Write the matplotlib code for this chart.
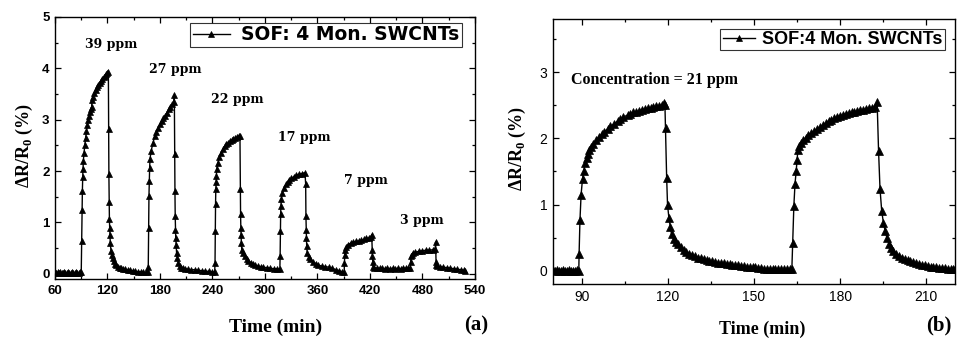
import numpy as np
import matplotlib
matplotlib.use("Agg")
import matplotlib.pyplot as plt
from matplotlib.ticker import MultipleLocator

plt.rcParams["mathtext.fontset"] = "custom"
plt.rcParams["mathtext.bf"] = "Liberation Serif:bold"
plt.rcParams["mathtext.rm"] = "Liberation Serif:bold"

# (a) response to successive concentrations
time_a = [
    60, 61.5, 63, 64.5, 66, 67.5, 69, 70.5, 72, 73.5, 75, 76.5, 78, 79.5, 81, 82.5, 84, 85.5, 87, 88.5, 90,
    90.5, 90.9, 91.3, 91.7, 92.1, 92.4, 93.2, 94, 95, 96, 97, 98, 99, 100, 101, 101.9, 102.3, 103.5, 105,
    106.5, 108, 109.5, 111, 112.5, 114, 115.5, 117, 118.5, 120, 121,
    121.3, 121.6, 121.9, 122.2, 122.5, 122.8, 123.2, 124, 125, 126, 127, 128.5, 130, 132, 134, 136, 138,
    140, 143, 146, 149, 152, 155, 158, 161, 164, 166,
    166.6, 167, 167.4, 167.8, 168.2, 168.6, 170, 172, 174, 176, 178, 180, 182, 184, 186, 188, 190, 192,
    194, 196, 196.4,
    196.8, 197.1, 197.4, 197.7, 198, 198.4, 199, 200, 201, 202.5, 204, 206, 209, 212, 216, 220, 224, 228,
    232, 236, 240, 242.5,
    242.9, 243.2, 243.5, 243.8, 244.1, 244.4, 244.8, 246, 248, 250, 252, 254, 256, 258, 260, 262, 264,
    266, 268, 270, 271.4,
    271.8, 272.1, 272.4, 272.7, 273, 273.5, 275, 277, 279, 281, 283.5, 286, 289, 292, 295, 298, 302, 306,
    310, 314, 317,
    317.3, 317.6, 317.9, 318.2, 318.6, 320, 322, 324, 326, 328, 330, 333, 336, 339, 342, 345.7,
    346.5, 346.8, 347.1, 347.4, 347.7, 348.2, 350, 352, 355, 358, 361, 365, 369, 373, 377, 381, 385, 388,
    390.5,
    390.8, 391.2, 391.6, 393, 395, 398, 401, 404, 407, 410, 413, 416, 419, 421.5, 422,
    422.5, 422.8, 423.2, 423.6, 425, 428, 431, 434, 437, 440, 443, 446, 449, 452, 455, 458, 461, 464, 466,
    466.5, 467, 467.5, 469, 472, 476, 480, 484, 488, 492, 494.5, 495,
    495.5, 496, 497, 500, 504, 508, 512, 516, 520, 524, 527, 529,
]
resp_a = [
    0.03, 0.02, 0.03, 0.02, 0.03, 0.02, 0.02, 0.03, 0.02, 0.02, 0.03, 0.02, 0.02, 0.03, 0.02, 0.02, 0.03, 0.02, 0.02, 0.03, 0.03,
    0.63, 1.25, 1.61, 1.89, 2.05, 2.2, 2.35, 2.5, 2.65, 2.78, 2.9, 3.0, 3.08, 3.15, 3.2, 3.25, 3.38, 3.45, 3.52,
    3.58, 3.63, 3.68, 3.72, 3.76, 3.8, 3.83, 3.86, 3.89, 3.91, 3.93,
    2.82, 1.94, 1.39, 1.06, 0.9, 0.76, 0.6, 0.45, 0.36, 0.3, 0.25, 0.2, 0.17, 0.14, 0.12, 0.11, 0.1,
    0.09, 0.08, 0.07, 0.06, 0.05, 0.04, 0.04, 0.03, 0.03, 0.03,
    0.14, 0.9, 1.52, 1.81, 2.07, 2.24, 2.4, 2.55, 2.68, 2.76, 2.84, 2.91, 2.97, 3.03, 3.08, 3.14, 3.2, 3.25,
    3.3, 3.35, 3.48,
    2.33, 1.61, 1.12, 0.86, 0.7, 0.57, 0.4, 0.3, 0.21, 0.16, 0.12, 0.11, 0.1, 0.09, 0.08, 0.08, 0.07, 0.06,
    0.05, 0.05, 0.04, 0.03,
    0.21, 0.83, 1.35, 1.65, 1.78, 1.91, 2.04, 2.15, 2.27, 2.36, 2.43, 2.48, 2.52, 2.55, 2.58, 2.6, 2.62,
    2.64, 2.66, 2.68, 2.69,
    1.65, 1.16, 0.9, 0.76, 0.6, 0.47, 0.4, 0.34, 0.29, 0.25, 0.22, 0.2, 0.17, 0.15, 0.14, 0.13, 0.12, 0.11,
    0.1, 0.1, 0.09,
    0.34, 0.83, 1.16, 1.32, 1.45, 1.58, 1.67, 1.74, 1.79, 1.83, 1.86, 1.89, 1.92, 1.94, 1.95, 1.97,
    1.75, 1.12, 0.86, 0.7, 0.54, 0.41, 0.33, 0.28, 0.23, 0.2, 0.17, 0.15, 0.14, 0.13, 0.11, 0.08, 0.06, 0.04,
    0.03,
    0.21, 0.37, 0.47, 0.53, 0.57, 0.6, 0.62, 0.63, 0.64, 0.65, 0.67, 0.69, 0.7, 0.72, 0.76,
    0.47, 0.34, 0.24, 0.14, 0.12, 0.11, 0.11, 0.11, 0.1, 0.11, 0.1, 0.11, 0.1, 0.11, 0.1, 0.11, 0.11, 0.11, 0.12,
    0.24, 0.34, 0.37, 0.4, 0.42, 0.44, 0.45, 0.46, 0.46, 0.47, 0.48, 0.62,
    0.24, 0.18, 0.15, 0.14, 0.13, 0.12, 0.11, 0.1, 0.09, 0.08, 0.07, 0.05,
]
ppm_labels = ["39 ppm", "27 ppm", "22 ppm", "17 ppm", "7 ppm", "3 ppm"]
ppm_x = [124, 198, 268, 345, 415, 479]
ppm_y = [4.46, 3.97, 3.40, 2.65, 1.81, 1.03]

# (b) two cycles at 21 ppm
time_b = [
    80, 80.7, 81.4, 82.1, 82.8, 83.5, 84.2, 84.9, 85.6, 86.3, 87, 87.7, 88.4, 89,
    89.1, 89.4, 89.8, 90.3, 90.7, 91.2, 91.7, 92.1, 92.7, 93.3, 94, 95, 96, 97, 97.9, 99, 100, 101.4,
    102.5, 103.5, 104.5, 106, 107, 108, 109, 110, 111, 112, 113, 114, 115, 116, 117, 118, 118.6, 119,
    119.2, 119.6, 119.9, 120.4, 120.9, 121.3, 122, 122.8, 123.5, 124.5, 125.5, 126.5, 127.5, 128.5,
    129.5, 130.5, 131.5, 132.5, 133.5, 134.5, 135.5, 136.5, 137.5, 138.5, 139.5, 140.5, 141.5, 142.5,
    143.5, 144.5, 145.5, 146.5, 147.5, 148.5, 149.5, 150.5, 151.5, 152.5, 153.5, 154.5, 155.5, 156.5,
    157.5, 158.5, 159.5, 160.5, 161.5, 162.5, 163.2,
    163.5, 163.9, 164.3, 164.7, 165, 165.3, 165.8, 166.5, 167.2, 168, 169, 170, 171, 172, 173, 174, 175,
    176, 177, 178, 179, 180, 181, 182, 183, 184, 185, 186, 187, 188, 189, 190, 191, 192, 192.9,
    193.4, 193.9, 194.5, 195.1, 195.7, 196.3, 197, 197.8, 198.6, 199.5, 200.5, 201.5, 202.5, 203.5,
    204.5, 205.5, 206.5, 207.5, 208.5, 209.5, 210.5, 211.5, 212.5, 213.5, 214.5, 215.5, 216.5, 217.5,
    218.5, 219.5, 220,
]
resp_b = [
    0.01, -0.01, 0.01, 0.0, -0.01, 0.01, 0.0, -0.01, 0.01, 0.0, -0.01, 0.0, 0.01, 0.0,
    0.25, 0.76, 1.15, 1.39, 1.51, 1.62, 1.7, 1.76, 1.82, 1.87, 1.92, 1.97, 2.02, 2.06, 2.1, 2.14, 2.18, 2.22,
    2.26, 2.29, 2.32, 2.35, 2.37, 2.39, 2.4, 2.41, 2.43, 2.44, 2.45, 2.46, 2.47, 2.48, 2.49, 2.5, 2.53, 2.5,
    2.15, 1.4, 1.0, 0.79, 0.66, 0.55, 0.48, 0.43, 0.4, 0.36, 0.32, 0.29, 0.26, 0.24,
    0.22, 0.2, 0.19, 0.17, 0.16, 0.15, 0.14, 0.13, 0.12, 0.12, 0.11, 0.1, 0.1, 0.09,
    0.08, 0.08, 0.07, 0.07, 0.06, 0.06, 0.05, 0.05, 0.04, 0.04, 0.03, 0.03, 0.03, 0.03,
    0.02, 0.03, 0.02, 0.02, 0.02, 0.02, 0.02,
    0.42, 0.98, 1.31, 1.5, 1.67, 1.82, 1.88, 1.93, 1.97, 2.01, 2.05, 2.08, 2.11, 2.14, 2.17, 2.2, 2.23,
    2.26, 2.28, 2.3, 2.32, 2.34, 2.35, 2.37, 2.38, 2.39, 2.4, 2.41, 2.42, 2.43, 2.44, 2.45, 2.46, 2.47, 2.55,
    1.81, 1.24, 0.9, 0.72, 0.6, 0.5, 0.41, 0.35, 0.3, 0.26, 0.23, 0.2, 0.18, 0.16,
    0.14, 0.13, 0.11, 0.1, 0.09, 0.08, 0.07, 0.06, 0.05, 0.05, 0.04, 0.04, 0.04, 0.03,
    0.03, 0.03, 0.03,
]

serif = "Liberation Serif"
sans = "Liberation Sans"

fig = plt.figure(figsize=(9.58, 3.44), dpi=100)
ax1 = fig.add_axes([0.0574, 0.189, 0.4384, 0.7616])
ax2 = fig.add_axes([0.5772, 0.1744, 0.4196, 0.7703])

# panel (a)
ax1.plot(time_a, resp_a, "k-", lw=1.0, marker="^", ms=5.0, mec="k", mew=0.5,
         label="SOF: 4 Mon. SWCNTs")
for lab, x, y in zip(ppm_labels, ppm_x, ppm_y):
    ax1.text(x, y, lab, ha="center", va="center", fontsize=9,
             family="DejaVu Serif", fontweight="bold")
ax1.set_xlim(60, 540)
ax1.set_ylim(-0.1, 5)
ax1.xaxis.set_major_locator(MultipleLocator(60))
ax1.xaxis.set_minor_locator(MultipleLocator(30))
ax1.yaxis.set_major_locator(MultipleLocator(1))
ax1.yaxis.set_minor_locator(MultipleLocator(0.5))
leg1 = ax1.legend(loc="upper right", bbox_to_anchor=(0.969, 0.977), borderaxespad=0,
                  prop={"family": "DejaVu Sans", "weight": "bold", "size": 13.5},
                  handlelength=2.0, handletextpad=0.6, borderpad=0.12,
                  fancybox=False, edgecolor="k", markerscale=0.75)
leg1.get_frame().set_linewidth(0.8)
ax1.set_xlabel("Time (min)", family=serif, fontweight="bold", fontsize=14)
ax1.xaxis.set_label_coords(0.525, -0.15)
ax1.set_ylabel(r"ΔR/R$_\mathbf{0}$ (%)", family=serif, fontweight="bold", fontsize=13)
ax1.yaxis.set_label_coords(-0.048, 0.51)
for lbl in ax1.get_xticklabels() + ax1.get_yticklabels():
    lbl.set_family(sans)
    lbl.set_fontweight("bold")
    lbl.set_fontsize(9.5)

# panel (b)
ax2.plot(time_b, resp_b, "k-", lw=1.0, marker="^", ms=5.6, mec="k", mew=0.5,
         label="SOF:4 Mon. SWCNTs")
ax2.text(86.2, 2.88, "Concentration = 21 ppm", ha="left", va="center",
         family=serif, fontweight="bold", fontsize=11.5)
ax2.set_xlim(80, 220)
ax2.set_ylim(-0.2, 3.8)
ax2.xaxis.set_major_locator(MultipleLocator(30))
ax2.xaxis.set_minor_locator(MultipleLocator(15))
ax2.yaxis.set_major_locator(MultipleLocator(1))
ax2.yaxis.set_minor_locator(MultipleLocator(0.5))
leg2 = ax2.legend(loc="upper right", bbox_to_anchor=(0.975, 0.962), borderaxespad=0,
                  prop={"family": sans, "weight": "bold", "size": 13},
                  handlelength=1.8, handletextpad=0.4, borderpad=0.12,
                  fancybox=False, edgecolor="k", markerscale=0.75)
leg2.get_frame().set_linewidth(0.8)
ax2.set_xlabel("Time (min)", family=serif, fontweight="bold", fontsize=13)
ax2.xaxis.set_label_coords(0.52, -0.14)
ax2.set_ylabel(r"ΔR/R$_\mathbf{0}$ (%)", family=serif, fontweight="bold", fontsize=13)
ax2.yaxis.set_label_coords(-0.062, 0.51)
for lbl in ax2.get_xticklabels() + ax2.get_yticklabels():
    lbl.set_family(sans)
    lbl.set_fontsize(10)

for ax in (ax1, ax2):
    ax.tick_params(which="both", direction="in", top=True, right=True, width=0.9)
    ax.tick_params(which="major", length=4, pad=4)
    ax.tick_params(which="minor", length=2.5)
    for sp in ax.spines.values():
        sp.set_linewidth(1.0)

fig.text(0.497, 0.055, "(a)", ha="center", va="center", family=serif,
         fontweight="bold", fontsize=15)
fig.text(0.98, 0.055, "(b)", ha="center", va="center", family=serif,
         fontweight="bold", fontsize=15)

fig.savefig("out.png", dpi=100)
